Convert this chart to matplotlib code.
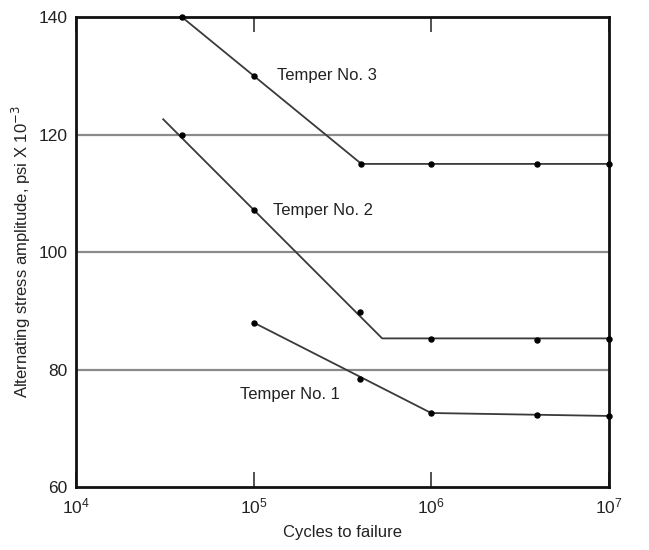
import matplotlib
matplotlib.use("Agg")
import matplotlib.pyplot as plt
from matplotlib.ticker import FixedLocator, NullLocator

plt.rcParams['font.family'] = ['Liberation Sans', 'DejaVu Sans']

# Temper No. 3: fitted S-N line and measured points
t3_line_x = [3.95e4, 4.05e5, 1e7]
t3_line_y = [140, 115, 115]
t3_pts_x = [3.95e4, 1e5, 4.05e5, 1e6, 3.95e6, 1e7]
t3_pts_y = [140, 130, 115, 115, 115, 115]

# Temper No. 2
t2_line_x = [3.1e4, 5.3e5, 1e7]
t2_line_y = [122.6, 85.3, 85.3]
t2_pts_x = [3.95e4, 1e5, 4.0e5, 1e6, 3.95e6, 1e7]
t2_pts_y = [120, 107.2, 89.8, 85.2, 85.1, 85.2]

# Temper No. 1
t1_line_x = [1e5, 1e6, 1e7]
t1_line_y = [88.0, 72.6, 72.1]
t1_pts_x = [1e5, 4.0e5, 1e6, 3.95e6, 1e7]
t1_pts_y = [88.0, 78.4, 72.6, 72.2, 72.1]

labels = ["Temper No. 3", "Temper No. 2", "Temper No. 1"]
label_pos = [(1.36e5, 130), (1.28e5, 107), (8.35e4, 75.8)]

x_ticks = [1e4, 1e5, 1e6, 1e7]
x_tick_labels = [r"$\mathregular{10^4}$", r"$\mathregular{10^5}$",
                 r"$\mathregular{10^6}$", r"$\mathregular{10^7}$"]
y_ticks = [60, 80, 100, 120, 140]
grid_levels = [80, 100, 120]

fig = plt.figure(figsize=(6.49, 5.5), dpi=100)
ax = fig.add_axes([0.117, 0.1145, 0.821, 0.8545])
ax.set_xscale("log")
ax.set_xlim(1e4, 1e7)
ax.set_ylim(60, 140)

for g in grid_levels:
    ax.axhline(g, color="#8a8a8a", lw=1.6, zorder=1)

line_kw = dict(color="#3a3a3a", lw=1.3, zorder=3)
pt_kw = dict(color="black", marker="o", ms=3.6, ls="none", zorder=4, clip_on=False)
for lx, ly, px, py in [(t3_line_x, t3_line_y, t3_pts_x, t3_pts_y),
                       (t2_line_x, t2_line_y, t2_pts_x, t2_pts_y),
                       (t1_line_x, t1_line_y, t1_pts_x, t1_pts_y)]:
    ax.plot(lx, ly, clip_on=False, **line_kw)
    ax.plot(px, py, **pt_kw)

for text, (tx, ty) in zip(labels, label_pos):
    ax.text(tx, ty, text, fontsize=12, color="#222222", va="center", ha="left")

ax.xaxis.set_major_locator(FixedLocator(x_ticks))
ax.xaxis.set_minor_locator(NullLocator())
ax.set_xticklabels(x_tick_labels, fontsize=12.5, color="#222222")
ax.set_yticks(y_ticks)
ax.set_yticklabels([str(v) for v in y_ticks], fontsize=12.5, color="#222222")
ax.tick_params(axis="x", direction="in", length=11, width=1.2, top=True,
               pad=7, color="#333333")
ax.tick_params(axis="y", length=0, pad=6)

for s in ax.spines.values():
    s.set_linewidth(2.0)
    s.set_color("#111111")

ax.set_xlabel("Cycles to failure", fontsize=12, color="#222222", labelpad=6)
ax.set_ylabel(r"Alternating stress amplitude, psi X 10$^{-3}$", fontsize=12,
              color="#222222", labelpad=4)

fig.savefig("out.png", dpi=100)
